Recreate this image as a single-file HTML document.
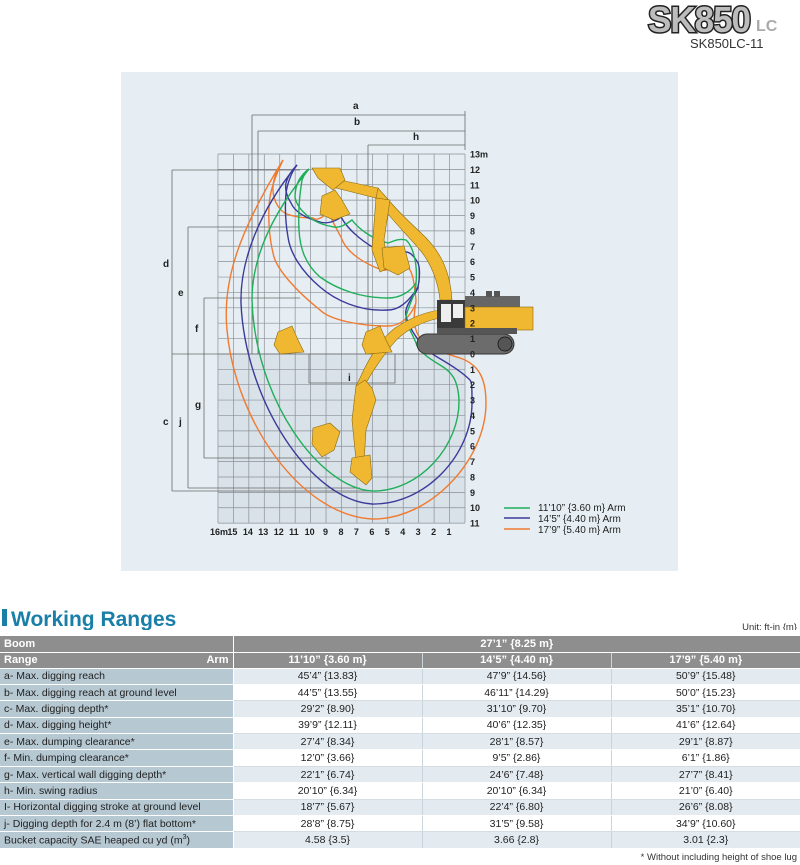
<!DOCTYPE html>
<html><head><meta charset="utf-8"><style>
*{margin:0;padding:0;box-sizing:border-box}
body{width:800px;height:865px;background:#fff;font-family:"Liberation Sans",sans-serif;position:relative;overflow:hidden}
#tbl{position:absolute;left:0;top:636px;width:800px;border-collapse:collapse;font-size:10.5px;color:#222}
#tbl td{height:16.4px;padding:0 4px;border-bottom:1px solid #fff;white-space:nowrap}
#tbl td.l{background:#b6c8d2;width:233px;border-right:1px solid #fff}
#tbl td.v{text-align:center;width:189px;border-left:1px solid #c9d4db}
#tbl tr.o td.v{background:#e3ebf1}
#tbl tr.e td.v{background:#fff;border-bottom:1px solid #d5dde2}
#tbl tr.h td{background:#8e8e8e;color:#fff;font-weight:bold;font-size:11px;height:16px}
</style></head><body>
<svg width="800" height="630" style="position:absolute;left:0;top:0" font-family="Liberation Sans, sans-serif">
<!-- logo -->
<text x="648" y="32" font-size="36" font-weight="bold" fill="#bcbcbc" stroke="#222" stroke-width="3" paint-order="stroke" letter-spacing="-1" textLength="102" lengthAdjust="spacingAndGlyphs">SK850</text>
<text x="756" y="31" font-size="16" font-weight="bold" fill="#aaa">LC</text>
<text x="690" y="48" font-size="13" fill="#333">SK850LC-11</text>
<!-- panel -->
<rect x="121" y="72" width="557" height="499" fill="#e6eef3"/>
<rect x="218" y="354" width="247" height="169" fill="#d9e2e8"/>
<g stroke="#8a9096" stroke-width="0.7" id="grid"></g>
<g id="dims" stroke="#6a6a6a" stroke-width="0.8" fill="none">
<path d="M252 115H465M252 115V354M258 131H465M258 131V354M368 145H465M368 145V354M465 111V150"/>
<path d="M172 170V491M188 227V488M204 298V458"/>
<path d="M172 170H300M188 227H300M204 298H300M172 354H465M172 491H372M188 488H360M204 458H330"/>
<path d="M309 354V383H395V354"/>
</g>
<g font-size="10" font-weight="bold" fill="#222">
<text x="353" y="109">a</text><text x="354" y="125">b</text><text x="413" y="140">h</text>
<text x="163" y="267">d</text><text x="178" y="296">e</text><text x="195" y="332">f</text>
<text x="195" y="408">g</text><text x="163" y="425">c</text><text x="179" y="425">j</text><text x="348" y="381">i</text>
</g>
<!-- curves -->
<g fill="none" stroke-width="1.4">
<path stroke="#f07a30" d="M283 160C240 230 222 280 227 330C235 420 300 515 372 519C430 520 486 460 486 403C486 380 480 365 460 358C440 352 420 345 416 330C412 318 416 305 416 300C414 280 412 268 406 267C395 265 385 272 382 270C360 262 345 250 341 237C334 225 330 214 327 213C320 220 315 220 313 218C298 218 285 215 281 210C272 200 272 188 274 180C276 172 280 165 283 160"/>
<path stroke="#f07a30" d="M416 303C410 318 400 326 388 326C360 326 330 320 320 310C295 290 278 270 274 257C268 235 268 210 270 197C272 185 278 170 283 160"/>
<path stroke="#3a3a9a" d="M297 165C260 210 240 260 241 303C245 400 310 500 372 504C425 505 472 455 472 403C472 390 472 382 470 380C455 365 430 355 424 347C412 333 404 318 406 310C408 300 418 292 418 287C420 278 420 268 418 263C414 256 410 252 406 252C400 252 392 256 388 255C365 245 348 230 341 217C335 222 326 224 320 222C305 218 295 212 291 203C286 195 285 188 286 183C288 175 293 169 297 165"/>
<path stroke="#3a3a9a" d="M418 287C410 300 400 310 388 310C360 312 335 300 320 287C300 270 290 252 288 237C285 220 285 205 286 193C288 180 293 170 297 165"/>
<path stroke="#1fae5a" d="M309 169C275 210 252 255 252 300C255 400 320 488 372 491C420 492 460 445 459 400C458 380 452 372 440 365C425 356 418 350 416 343C412 332 404 322 406 317C408 305 416 295 416 283C418 262 412 245 406 240C398 238 392 242 388 243C370 238 358 228 352 220C345 225 340 228 334 227C322 225 314 221 309 217C300 210 296 203 295 197C295 190 297 184 299 180C302 175 306 171 309 169"/>
<path stroke="#1fae5a" d="M416 283C410 292 400 298 388 298C362 298 338 290 320 277C305 264 300 248 299 230C298 210 300 192 302 180C304 175 306 171 309 169"/>
</g>
<!-- excavator upper pose -->
<g fill="#f0b830" stroke="#8a6a10" stroke-width="0.6">
<path d="M452 300C450 270 440 250 420 232C405 218 395 208 385 196L378 188L372 194L380 204C392 220 408 236 420 250C430 262 438 280 440 300Z"/>
<path d="M378 188L340 180L322 170L318 176L336 188L376 198Z"/>
<path d="M312 168L340 168L345 180L333 190L318 178Z"/>
<path d="M376 198L372 250L380 272L388 268L384 240L390 200Z"/>
<path d="M382 248L404 246L410 268L398 275L384 268Z"/>
<path d="M335 190L322 196L320 214L334 220L350 214L342 200Z"/>
<!-- lower pose -->
<path d="M440 318C420 322 402 332 392 345C380 360 372 372 365 385L356 386L360 378C368 360 380 340 395 328C410 318 425 312 440 310Z"/>
<path d="M365 380L356 386L352 420L356 460L364 462L366 430L376 400L372 388Z"/>
<path d="M352 458L370 455L372 478L366 485L350 472Z"/>
<path d="M313 428L330 423L340 432L334 450L322 457L312 444Z"/>
<path d="M278 332L292 326L298 340L304 352L280 354L274 345Z"/>
<path d="M366 332L380 326L386 340L392 352L366 354L362 345Z"/>
</g>
<!-- machine -->
<rect x="417" y="334" width="97" height="20" rx="10" fill="#6c6c6c" stroke="#333"/>
<circle cx="505" cy="344" r="7" fill="#555" stroke="#222"/>
<rect x="437" y="300" width="30" height="30" fill="#3a3a3a"/>
<rect x="441" y="304" width="10" height="18" fill="#eee"/>
<rect x="453" y="304" width="10" height="14" fill="#eee"/>
<rect x="465" y="296" width="55" height="12" fill="#666"/>
<rect x="486" y="291" width="6" height="6" fill="#555"/><rect x="494" y="291" width="6" height="6" fill="#555"/>
<rect x="465" y="307" width="68" height="23" fill="#f0b830" stroke="#8a6a10" stroke-width="0.6"/>
<rect x="437" y="328" width="80" height="6" fill="#555"/>
<!-- legend -->
<path d="M504 508H530" stroke="#1fae5a" stroke-width="1.5"/>
<path d="M504 518H530" stroke="#3a3a9a" stroke-width="1.5"/>
<path d="M504 529H530" stroke="#f07a30" stroke-width="1.5"/>
<g font-size="10" fill="#222"><text x="538" y="511">11’10” {3.60 m} Arm</text><text x="538" y="522">14’5” {4.40 m} Arm</text><text x="538" y="533">17’9” {5.40 m} Arm</text></g>
<g id="ax" font-size="9" font-weight="bold" fill="#222"></g>
<!-- title -->
<rect x="2" y="609" width="5" height="17" fill="#1a7fa8"/>
<text x="11" y="626" font-size="21" font-weight="bold" fill="#1a7fa8">Working Ranges</text>
<text x="797" y="630" font-size="9.5" fill="#333" text-anchor="end">Unit: ft-in {m}</text>
</svg>
<table id="tbl">
<tr class="h"><td class="l" style="background:#8e8e8e">Boom</td><td colspan="3" style="text-align:center">27’1” {8.25 m}</td></tr>
<tr class="h"><td class="l" style="background:#8e8e8e">Range<span style="float:right">Arm</span></td><td class="v" style="background:#8e8e8e">11’10” {3.60 m}</td><td class="v" style="background:#8e8e8e">14’5” {4.40 m}</td><td class="v" style="background:#8e8e8e">17’9” {5.40 m}</td></tr>
<tr class="o"><td class="l">a- Max. digging reach</td><td class="v">45’4” {13.83}</td><td class="v">47’9” {14.56}</td><td class="v">50’9” {15.48}</td></tr>
<tr class="e"><td class="l">b- Max. digging reach at ground level</td><td class="v">44’5” {13.55}</td><td class="v">46’11” {14.29}</td><td class="v">50’0” {15.23}</td></tr>
<tr class="o"><td class="l">c- Max. digging depth*</td><td class="v">29’2” {8.90}</td><td class="v">31’10” {9.70}</td><td class="v">35’1” {10.70}</td></tr>
<tr class="e"><td class="l">d- Max. digging height*</td><td class="v">39’9” {12.11}</td><td class="v">40’6” {12.35}</td><td class="v">41’6” {12.64}</td></tr>
<tr class="o"><td class="l">e- Max. dumping clearance*</td><td class="v">27’4” {8.34}</td><td class="v">28’1” {8.57}</td><td class="v">29’1” {8.87}</td></tr>
<tr class="e"><td class="l">f- Min. dumping clearance*</td><td class="v">12’0” {3.66}</td><td class="v">9’5” {2.86}</td><td class="v">6’1” {1.86}</td></tr>
<tr class="o"><td class="l">g- Max. vertical wall digging depth*</td><td class="v">22’1” {6.74}</td><td class="v">24’6” {7.48}</td><td class="v">27’7” {8.41}</td></tr>
<tr class="e"><td class="l">h- Min. swing radius</td><td class="v">20’10” {6.34}</td><td class="v">20’10” {6.34}</td><td class="v">21’0” {6.40}</td></tr>
<tr class="o"><td class="l">I- Horizontal digging stroke at ground level</td><td class="v">18’7” {5.67}</td><td class="v">22’4” {6.80}</td><td class="v">26’6” {8.08}</td></tr>
<tr class="e"><td class="l">j- Digging depth for 2.4 m (8’) flat bottom*</td><td class="v">28’8” {8.75}</td><td class="v">31’5” {9.58}</td><td class="v">34’9” {10.60}</td></tr>
<tr class="o"><td class="l">Bucket capacity SAE heaped cu yd (m<sup style="font-size:7px">3</sup>)</td><td class="v">4.58 {3.5}</td><td class="v">3.66 {2.8}</td><td class="v">3.01 {2.3}</td></tr>
</table>
<div style="position:absolute;right:3px;top:852px;font-size:9.5px;color:#333">* Without including height of shoe lug</div>
<script>
var ns="http://www.w3.org/2000/svg",g=document.getElementById("grid"),ax=document.getElementById("ax");
function L(x1,y1,x2,y2){var l=document.createElementNS(ns,"line");l.setAttribute("x1",x1);l.setAttribute("y1",y1);l.setAttribute("x2",x2);l.setAttribute("y2",y2);g.appendChild(l);}
function T(x,y,s){var t=document.createElementNS(ns,"text");t.setAttribute("x",x);t.setAttribute("y",y);t.textContent=s;ax.appendChild(t);}
for(var k=0;k<=16;k++){var x=465-15.44*k;L(x,154,x,523);T(k==16?x-8:x-(k>9?6:3),535,k==0?"":(k==16?"16m":k));}
for(var j=0;j<=24;j++){var y=154+15.38*j;L(218,y,465,y);var m=13-j;T(470,y+3.5,m==13?"13m":Math.abs(m));}
</script>
</body></html>
